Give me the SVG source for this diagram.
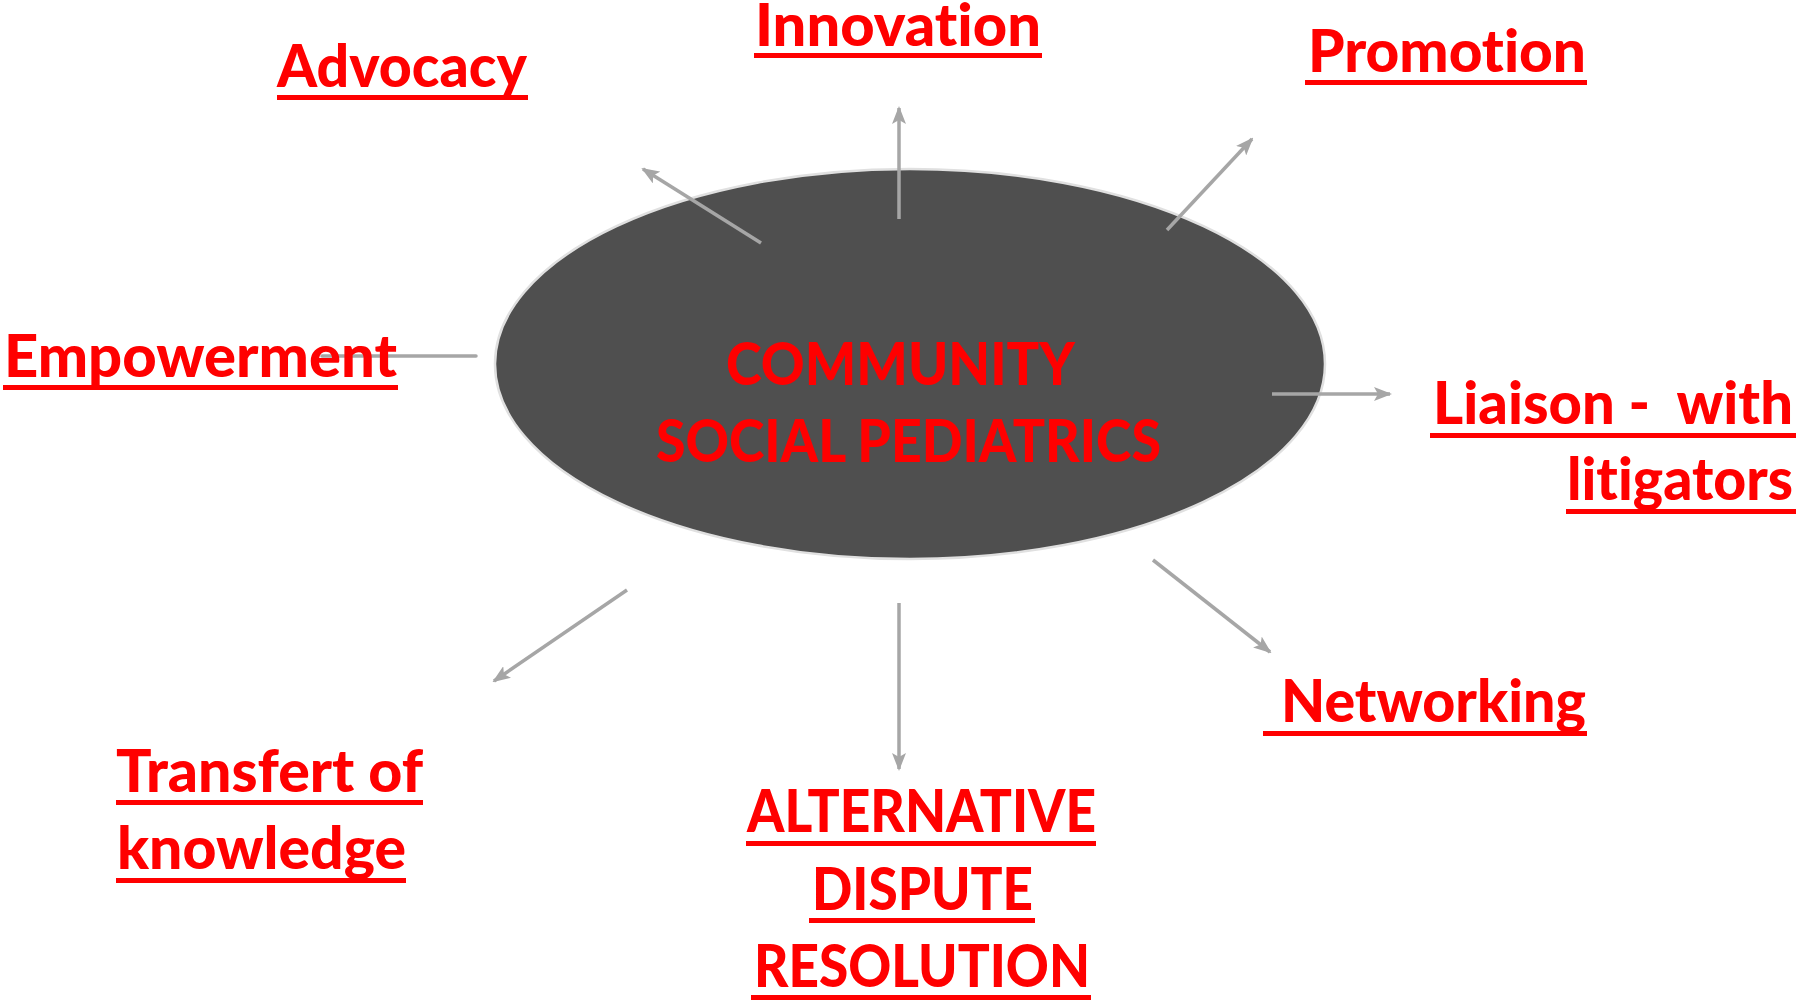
<svg xmlns="http://www.w3.org/2000/svg" width="1804" height="1000" viewBox="0 0 1804 1000">
<defs>
<style>
.lbl{font-family:Lato,"Open Sans","Liberation Sans",sans-serif;font-weight:900;font-size:59px;fill:#ff0000;font-variant-ligatures:none}
.ul{fill:#ff0000}
.conn line{stroke:#a6a6a6;stroke-width:3.5}
</style>
<marker id="ah" markerUnits="userSpaceOnUse" markerWidth="18" markerHeight="14" refX="16" refY="7" orient="auto">
<path d="M0,0 L18,7 L0,14 L4,7 Z" fill="#a6a6a6"/>
</marker>
</defs>
<rect width="1804" height="1000" fill="#ffffff"/>
<g id="center">
<ellipse cx="910" cy="364" rx="415" ry="195" fill="#4f4f4f" stroke="#e0e0e0" stroke-width="2.5"/>
<text class="lbl" x="726" y="385" textLength="349" lengthAdjust="spacingAndGlyphs">COMMUNITY</text>
<text class="lbl" x="656" y="462" textLength="505" lengthAdjust="spacingAndGlyphs">SOCIAL PEDIATRICS</text>
</g>
<g id="connectors" class="conn">
<line x1="761" y1="243" x2="643" y2="169" marker-end="url(#ah)"/>
<line x1="899" y1="219" x2="899" y2="108" marker-end="url(#ah)"/>
<line x1="1167" y1="230" x2="1252" y2="139" marker-end="url(#ah)"/>
<line x1="476" y1="356" x2="322" y2="356" stroke-linecap="round"/>
<line x1="1272" y1="394" x2="1390" y2="394" marker-end="url(#ah)"/>
<line x1="1153" y1="560" x2="1270" y2="652" marker-end="url(#ah)"/>
<line x1="899" y1="603" x2="899" y2="769" marker-end="url(#ah)"/>
<line x1="627" y1="590" x2="494" y2="681" marker-end="url(#ah)"/>
</g>
<g id="advocacy">
<text class="lbl" x="277" y="87" textLength="250" lengthAdjust="spacingAndGlyphs">Advocacy</text>
<rect class="ul" x="277" y="95" width="251" height="5"/>
</g>
<g id="innovation">
<text class="lbl" x="755" y="46" textLength="286" lengthAdjust="spacingAndGlyphs">Innovation</text>
<rect class="ul" x="754" y="53" width="288" height="5"/>
</g>
<g id="promotion">
<text class="lbl" x="1308" y="72" textLength="278" lengthAdjust="spacingAndGlyphs">Promotion</text>
<rect class="ul" x="1305" y="80" width="282" height="5"/>
</g>
<g id="empowerment">
<text class="lbl" x="4" y="377" textLength="393" lengthAdjust="spacingAndGlyphs">Empowerment</text>
<rect class="ul" x="3" y="385" width="395" height="5"/>
</g>
<g id="liaison">
<text class="lbl" x="1433" y="424" textLength="360" lengthAdjust="spacingAndGlyphs" xml:space="preserve">Liaison -  with</text>
<rect class="ul" x="1430" y="433" width="366" height="5"/>
<text class="lbl" x="1567" y="500" textLength="226" lengthAdjust="spacingAndGlyphs">litigators</text>
<rect class="ul" x="1566" y="509" width="230" height="5"/>
</g>
<g id="networking">
<text class="lbl" x="1281" y="722" textLength="305" lengthAdjust="spacingAndGlyphs">Networking</text>
<rect class="ul" x="1263" y="731" width="324" height="5"/>
</g>
<g id="transfert">
<text class="lbl" x="116" y="792" textLength="307" lengthAdjust="spacingAndGlyphs">Transfert of</text>
<rect class="ul" x="116" y="800" width="307" height="5"/>
<text class="lbl" x="117" y="869" textLength="289" lengthAdjust="spacingAndGlyphs">knowledge</text>
<rect class="ul" x="116" y="878" width="290" height="5"/>
</g>
<g id="adr">
<text class="lbl" x="747" y="832" textLength="349" lengthAdjust="spacingAndGlyphs">ALTERNATIVE</text>
<rect class="ul" x="746" y="841" width="350" height="5"/>
<text class="lbl" x="812" y="910" textLength="221" lengthAdjust="spacingAndGlyphs">DISPUTE</text>
<rect class="ul" x="809" y="918" width="226" height="5"/>
<text class="lbl" x="754" y="987" textLength="336" lengthAdjust="spacingAndGlyphs">RESOLUTION</text>
<rect class="ul" x="751" y="995" width="340" height="5"/>
</g>
</svg>
